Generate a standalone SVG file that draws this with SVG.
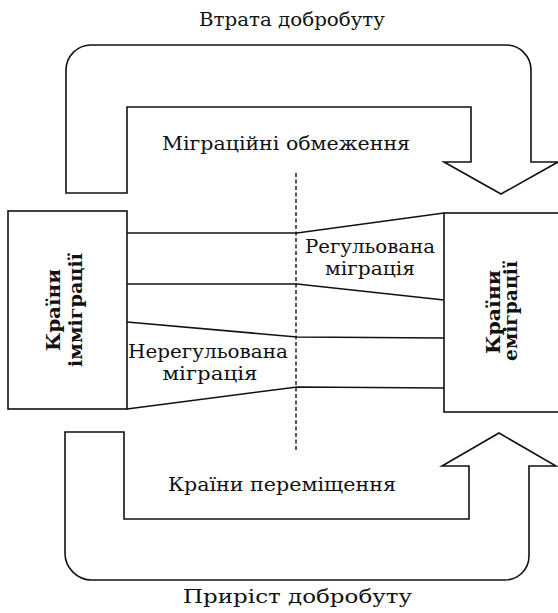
<svg xmlns="http://www.w3.org/2000/svg" width="558" height="613" viewBox="0 0 558 613">
<style>
.sh{fill:#fff;stroke:#111;stroke-width:1.6;stroke-linejoin:miter}
.ln{fill:none;stroke:#111;stroke-width:1.6}
.dash{fill:none;stroke:#111;stroke-width:1.4;stroke-dasharray:4 2.5}
.t{font-family:"DejaVu Serif","Liberation Serif",serif;font-size:19px;fill:#111;text-anchor:middle}
.b{font-family:"DejaVu Serif","Liberation Serif",serif;font-size:19px;font-weight:bold;fill:#111;text-anchor:middle}
</style>
<rect width="558" height="613" fill="#fff"/>
<g id="loss-arrow">
<path class="sh" d="M66,193 L66,70 A25,25 0 0 1 91,45 L506,45 A25,25 0 0 1 531,70 L531,162 L558,162 L501,194 L444,162 L471,162 L471,107 L127,107 L127,193 Z"/>
<text class="t" x="292" y="26" textLength="186" lengthAdjust="spacingAndGlyphs">Втрата добробуту</text>
<text class="t" x="286" y="150" textLength="248" lengthAdjust="spacingAndGlyphs">Міграційні обмеження</text>
</g>
<g id="gain-arrow">
<path class="sh" d="M65,432 L124,432 L124,519 L469,519 L469,466 L442,466 L499,433 L556,466 L529,466 L529,556 A24,24 0 0 1 505,580 L92,580 A27,27 0 0 1 65,553 Z"/>
<text class="t" x="282" y="491" textLength="228" lengthAdjust="spacingAndGlyphs">Країни переміщення</text>
<text class="t" x="297.5" y="603" font-size="21" textLength="229" lengthAdjust="spacingAndGlyphs">Приріст добробуту</text>
</g>
<g id="immigration">
<rect class="sh" x="8" y="211" width="119" height="198"/>
<text class="b" transform="translate(60,310) rotate(-90)" textLength="82" lengthAdjust="spacingAndGlyphs">Країни</text>
<text class="b" transform="translate(82,310) rotate(-90)" textLength="114" lengthAdjust="spacingAndGlyphs">імміграції</text>
</g>
<g id="emigration">
<rect class="sh" x="444" y="213" width="130" height="199"/>
<text class="b" transform="translate(500,312) rotate(-90)" textLength="84" lengthAdjust="spacingAndGlyphs">Країни</text>
<text class="b" transform="translate(517,311) rotate(-90)" textLength="100" lengthAdjust="spacingAndGlyphs">еміграції</text>
</g>
<g id="connectors">
<polyline class="ln" points="127,233 297,233 444,213"/>
<polyline class="ln" points="127,284 297,284 444,300"/>
<polyline class="ln" points="127,322 297,337 444,338"/>
<polyline class="ln" points="127,409 297,387 444,388"/>
<line class="dash" x1="296" y1="173" x2="296" y2="452"/>
</g>
<g id="labels">
<text class="t" x="370" y="253" textLength="130" lengthAdjust="spacingAndGlyphs">Регульована</text>
<text class="t" x="370" y="275" textLength="90" lengthAdjust="spacingAndGlyphs">міграція</text>
<text class="t" x="208" y="358" textLength="160" lengthAdjust="spacingAndGlyphs">Нерегульована</text>
<text class="t" x="210" y="380" textLength="95" lengthAdjust="spacingAndGlyphs">міграція</text>
</g>
</svg>
